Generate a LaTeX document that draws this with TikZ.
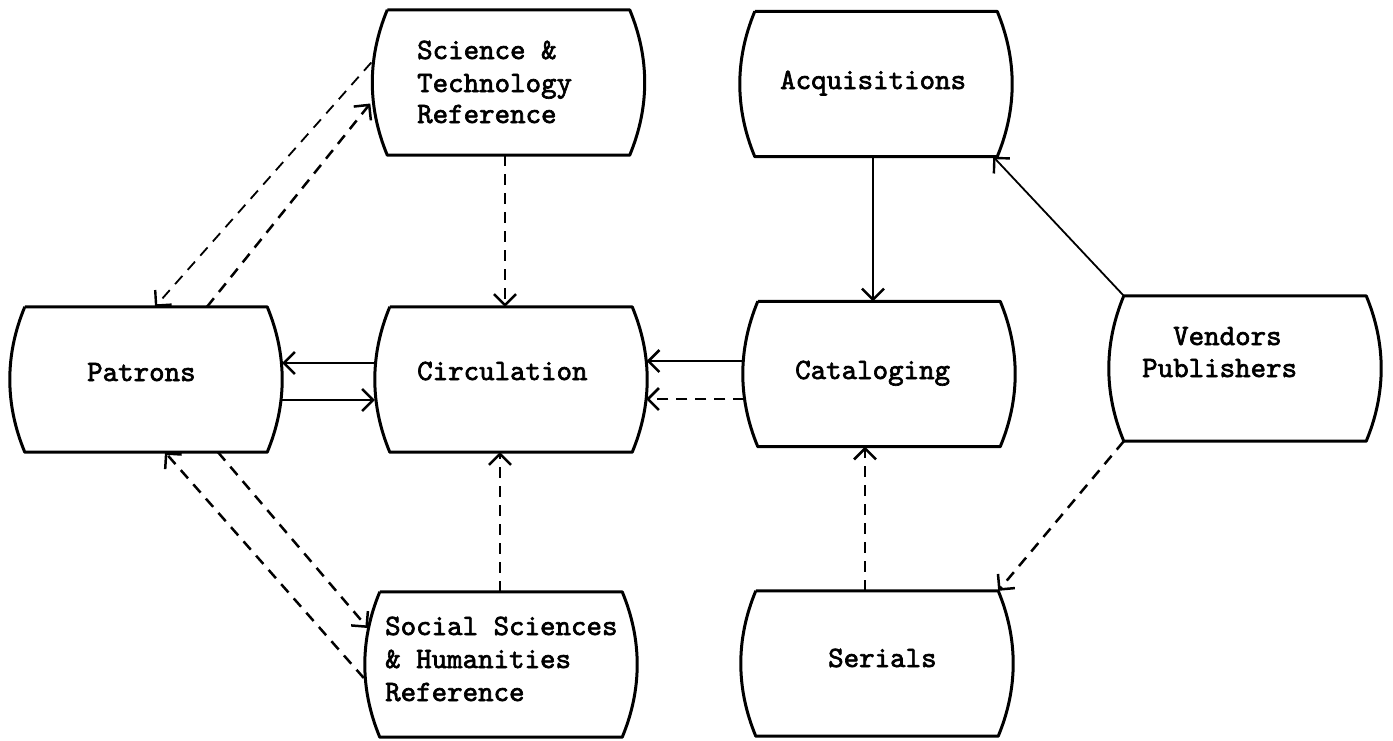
\documentclass[tikz,border=0pt]{standalone}
\usepackage{fontspec}
\setmonofont{lmmono10-regular}[Extension=.otf,AutoFakeBold=2.2]
\usetikzlibrary{arrows.meta}
\tikzset{
  box/.style={rectangle, minimum width=242pt, minimum height=145pt, inner sep=0pt},
  outl/.style={line width=3pt, line join=round},
  lbl/.style={anchor=base west, inner sep=0pt, font=\ttfamily\bfseries\fontsize{29.5}{32}\selectfont},
  conn/.style={line width=2.5pt, -{Straight Barb[length=11pt,width=22pt]}},
  thin conn/.style={line width=1.8pt, -{Straight Barb[length=11pt,width=22pt,line width=2.4pt]}},
  dsh/.style={dash pattern=on 11pt off 8pt},
}
\newcommand\barrel[1]{%
  \draw[outl] (#1.north west) -- (#1.north east)
    .. controls ([xshift=20pt,yshift=-48pt]#1.north east) and ([xshift=20pt,yshift=48pt]#1.south east) .. (#1.south east)
    -- (#1.south west)
    .. controls ([xshift=-20pt,yshift=48pt]#1.south west) and ([xshift=-20pt,yshift=-48pt]#1.north west) .. (#1.north west);}
\begin{document}
\begin{tikzpicture}[x=1pt,y=-1pt]
\useasboundingbox (0,0) rectangle (1393,740);
% boxes
\node[box] (P) at (146,379.5) {};
\node[box] (C) at (511,379.5) {};
\node[box] (S) at (508.5,82.5) {};
\node[box] (A) at (876,84) {};
\node[box] (K) at (879,374) {};
\node[box] (V) at (1245,368.5) {};
\node[box] (R) at (877,663.5) {};
\node[box] (H) at (501,664.5) {};
\foreach \n in {P,C,S,A,K,V,R,H} {\barrel{\n}}
% labels
\node[lbl] (Pt) at (87,381) {Patrons};
\node[lbl] (Ct) at (417,380) {Circulation};
\node[lbl] (Kt) at (795,379) {Cataloging};
\node[lbl] (At) at (780,89) {Acquisitions};
\node[lbl] (Rt) at (828,667) {Serials};
\node[lbl] (St1) at (417,59) {Science \&};
\node[lbl] (St2) at (417,92) {Technology};
\node[lbl] (St3) at (417,123) {Reference};
\node[lbl] (Ht1) at (385,635) {Social Sciences};
\node[lbl] (Ht2) at (385,668) {\& Humanities};
\node[lbl] (Ht3) at (385,701) {Reference};
\node[lbl] (Vt1) at (1173,345) {Vendors};
\node[lbl] (Vt2) at (1142,377) {Publishers};
% connectors
\draw[conn] ([xshift=-15pt,yshift=16.5pt]C.west) -- ([xshift=15pt,yshift=16.5pt]P.east);
\draw[conn] ([xshift=15pt,yshift=-20.5pt]P.east) -- ([xshift=-15pt,yshift=-20.5pt]C.west);
\draw[conn] ([xshift=-14.5pt,yshift=13pt]K.west) -- ([xshift=14.5pt,yshift=18.5pt]C.east);
\draw[conn,dsh] ([xshift=-13.5pt,yshift=-25pt]K.west) -- ([xshift=14pt,yshift=-19.5pt]C.east);
\draw[conn,dsh] ([xshift=-3.5pt]S.south) -- ([xshift=-6pt]C.north);
\draw[conn,dsh] ([xshift=-1pt]H.north) -- ([xshift=-11pt]C.south);
\draw[conn] ([xshift=-3pt]A.south) -- ([xshift=-6pt]K.north);
\draw[conn,dsh] ([xshift=-12pt]R.north) -- ([xshift=-14pt]K.south);
\draw[thin conn] (V.north west) -- ([xshift=-4pt]A.south east);
\draw[conn,dsh] (V.south west) -- (R.north east);
\draw[thin conn,dsh] ([xshift=-16pt,yshift=20pt]S.west) -- ([xshift=9pt]P.north);
\draw[conn,dsh] ([xshift=61pt]P.north) -- ([xshift=-17pt,yshift=-21pt]S.west);
\draw[conn,dsh] ([xshift=-16pt,yshift=-13.5pt]H.west) -- ([xshift=19pt]P.south);
\draw[conn,dsh] ([xshift=72pt]P.south) -- ([xshift=-12pt,yshift=36.5pt]H.west);
\end{tikzpicture}
\end{document}
